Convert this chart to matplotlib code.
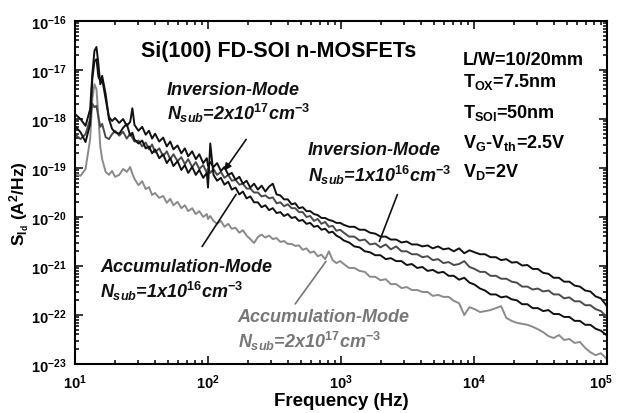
import matplotlib
matplotlib.use("Agg")
import matplotlib.pyplot as plt
import matplotlib.transforms as mtransforms
import numpy as np

plt.rcParams.update({
    "font.family": "Liberation Sans",
    "font.weight": "bold",
    "mathtext.fontset": "custom",
    "mathtext.rm": "Liberation Sans:bold",
    "mathtext.it": "Liberation Sans:italic:bold",
    "mathtext.bf": "Liberation Sans:bold",
    "mathtext.default": "rm",
})

# Frequency points of the measured spectra (Hz)
freq_hz = [
    10, 11, 12, 13, 13.5, 14, 14.5, 15, 15.5, 16, 17, 18, 19, 20,
    21.5, 23, 24.5, 26, 27, 28, 30, 32, 34, 36, 38, 40, 43, 46, 49, 52, 55, 59,
    63, 67, 71, 76, 81, 86, 92, 98, 100, 104,
    110, 117, 125, 133, 142, 151, 161, 172, 183, 195, 208, 222, 237, 253, 270,
    288, 307, 328, 350, 373, 398, 425, 453, 483, 515, 550, 587, 626, 668, 713,
    760, 811, 865, 923, 985,
    1050, 1150, 1260, 1380, 1510, 1650, 1810, 1980, 2170, 2370, 2600, 2850,
    3120, 3410, 3740, 4090, 4480, 4900, 5370, 5880, 6440, 7050, 7720, 8450, 9250,
    10100, 11100, 12100, 13300, 14600, 16000, 17500, 19200, 21000, 23000, 25200,
    27600, 30200, 33100, 36300, 39700, 43500, 47600, 52100, 57100, 62500, 68500,
    75000, 82100, 89900, 100000,
]

# Drain-current noise spectral density, log10(S_Id / (A^2/Hz))
log_s_inv_1e16 = [
    -17.90, -18.00, -18.14, -17.80, -17.08, -16.61, -16.53, -16.88, -17.29, -17.18, -17.59, -17.96, -18.04, -17.98,
    -18.08, -18.00, -18.14, -18.06, -17.78, -18.12, -18.24, -18.16, -18.32, -18.24, -18.40, -18.30, -18.46, -18.38,
    -18.56, -18.46, -18.62, -18.54, -18.70, -18.60, -18.76, -18.66, -18.82, -18.72, -18.90, -18.80, -18.96, -18.88,
    -18.98, -18.90, -19.06, -18.98, -19.14, -19.10, -19.24, -19.18, -19.32, -19.26, -19.40, -19.32, -19.44, -19.36,
    -19.48, -19.38, -19.32, -19.54, -19.56, -19.64, -19.64, -19.74, -19.72, -19.82, -19.80, -19.88, -19.88, -19.94,
    -19.96, -20.02, -20.02, -20.06, -20.08, -20.12, -20.12,
    -20.16, -20.20, -20.20, -20.26, -20.26, -20.32, -20.34, -20.40, -20.40, -20.46, -20.46, -20.52, -20.50, -20.56,
    -20.56, -20.60, -20.58, -20.64, -20.60, -20.66, -20.64, -20.70, -20.64, -20.74, -20.68,
    -20.72, -20.76, -20.76, -20.82, -20.82, -20.88, -20.86, -20.93, -20.92, -20.99, -20.98, -21.06, -21.06, -21.14,
    -21.16, -21.24, -21.24, -21.32, -21.32, -21.40, -21.42, -21.50, -21.52, -21.62, -21.66, -21.82,
]

log_s_inv_2e17 = [
    -18.31, -18.41, -18.31, -18.00, -17.69, -17.76, -17.73, -17.96, -18.16, -18.10, -18.37, -18.41, -18.31, -18.24,
    -18.34, -18.26, -18.40, -18.30, -18.38, -18.46, -18.44, -18.56, -18.48, -18.62, -18.52, -18.68, -18.60, -18.76,
    -18.66, -18.82, -18.72, -18.86, -18.78, -18.92, -18.82, -18.98, -18.88, -19.02, -18.94, -19.10, -19.00, -19.10,
    -19.02, -19.14, -19.08, -19.20, -19.14, -19.26, -19.24, -19.34, -19.32, -19.42, -19.42, -19.50, -19.50, -19.58,
    -19.56, -19.62, -19.60, -19.72, -19.70, -19.78, -19.74, -19.82, -19.82, -19.90, -19.90, -20.00, -19.98, -20.08,
    -20.04, -20.14, -20.10, -20.20, -20.18, -20.28, -20.26,
    -20.32, -20.40, -20.40, -20.48, -20.46, -20.56, -20.54, -20.62, -20.56, -20.66, -20.60, -20.70, -20.70, -20.76,
    -20.76, -20.82, -20.80, -20.88, -20.86, -20.94, -20.92, -20.98, -20.96, -20.90, -21.02,
    -21.06, -21.12, -21.12, -21.20, -21.20, -21.26, -21.26, -21.32, -21.34, -21.42, -21.42, -21.48, -21.46, -21.52,
    -21.50, -21.58, -21.58, -21.66, -21.64, -21.72, -21.72, -21.80, -21.80, -21.88, -21.92, -22.04,
]

log_s_acc_1e16 = [
    -18.14, -18.27, -18.47, -18.10, -17.18, -16.82, -16.78, -17.14, -17.22, -17.12, -17.49, -18.00, -18.20, -18.27,
    -18.30, -18.18, -18.10, -18.34, -18.28, -18.42, -18.50, -18.44, -18.60, -18.56, -18.70, -18.62, -18.80, -18.72,
    -18.90, -18.80, -18.96, -18.86, -19.04, -18.94, -19.10, -18.98, -19.14, -19.04, -19.20, -19.10, -19.40, -18.50,
    -19.14, -19.26, -19.20, -19.34, -19.28, -19.44, -19.40, -19.54, -19.48, -19.62, -19.58, -19.70, -19.70, -19.80,
    -19.76, -19.86, -19.82, -19.92, -19.90, -19.98, -19.94, -20.02, -20.00, -20.08, -20.06, -20.14, -20.12, -20.20,
    -20.18, -20.26, -20.24, -20.32, -20.30, -20.38, -20.42,
    -20.48, -20.52, -20.60, -20.62, -20.70, -20.72, -20.78, -20.78, -20.86, -20.84, -20.90, -20.90, -20.98, -20.96,
    -21.04, -21.02, -21.10, -21.08, -21.14, -21.12, -21.20, -21.20, -21.28, -21.24, -21.34,
    -21.38, -21.46, -21.50, -21.58, -21.58, -21.64, -21.62, -21.68, -21.70, -21.78, -21.78, -21.86, -21.86, -21.92,
    -21.90, -21.98, -21.98, -22.04, -22.04, -22.12, -22.12, -22.20, -22.20, -22.28, -22.32, -22.42,
]

log_s_acc_2e17 = [
    -19.12, -19.16, -19.02, -18.41, -17.59, -17.29, -17.39, -17.96, -18.57, -18.82, -19.08, -19.14, -19.06, -19.18,
    -19.14, -19.02, -19.08, -18.98, -19.12, -19.22, -19.35, -19.27, -19.43, -19.39, -19.55, -19.51, -19.61, -19.57,
    -19.71, -19.63, -19.76, -19.69, -19.82, -19.76, -19.88, -19.82, -19.94, -19.88, -20.00, -19.94, -20.04, -19.98,
    -20.08, -20.14, -20.08, -20.20, -20.14, -20.24, -20.22, -20.32, -20.27, -20.38, -20.45, -20.53, -20.41, -20.36,
    -20.42, -20.38, -20.45, -20.43, -20.51, -20.49, -20.55, -20.55, -20.59, -20.58, -20.67, -20.64, -20.73, -20.70,
    -20.80, -20.77, -20.86, -20.70, -20.88, -20.94, -20.90,
    -20.96, -21.04, -21.04, -21.10, -21.12, -21.22, -21.22, -21.29, -21.27, -21.37, -21.37, -21.45, -21.43, -21.49,
    -21.49, -21.53, -21.53, -21.61, -21.59, -21.63, -21.63, -21.71, -21.76, -22.00, -21.84,
    -21.88, -21.94, -21.92, -21.90, -21.86, -21.82, -22.06, -22.12, -22.16, -22.18, -22.20, -22.24, -22.29, -22.35,
    -22.43, -22.47, -22.41, -22.51, -22.49, -22.57, -22.55, -22.67, -22.76, -22.82, -22.78, -22.90,
]

x_ticks = [1e1, 1e2, 1e3, 1e4, 1e5]
x_tick_labels = [r"$10^{1}$", r"$10^{2}$", r"$10^{3}$", r"$10^{4}$", r"$10^{5}$"]
y_ticks = [1e-23, 1e-22, 1e-21, 1e-20, 1e-19, 1e-18, 1e-17, 1e-16]
y_tick_labels = [r"$10^{-23}$", r"$10^{-22}$", r"$10^{-21}$", r"$10^{-20}$",
                 r"$10^{-19}$", r"$10^{-18}$", r"$10^{-17}$", r"$10^{-16}$"]

fig = plt.figure(figsize=(6.17, 4.14), dpi=100)
ax = fig.add_axes([75 / 617, 49 / 414, 532 / 617, 343 / 414])

f = np.array(freq_hz)
ax.plot(f, 10 ** np.array(log_s_acc_2e17), color="#8a8a8a", lw=1.4)
ax.plot(f, 10 ** np.array(log_s_inv_2e17), color="#4a4a4a", lw=1.4)
ax.plot(f, 10 ** np.array(log_s_acc_1e16), color="#111111", lw=1.4)
ax.plot(f, 10 ** np.array(log_s_inv_1e16), color="#111111", lw=1.4)

ax.set_xscale("log")
ax.set_yscale("log")
ax.set_xlim(1e1, 1e5)
ax.set_ylim(1e-23, 1e-16)
ax.set_xticks(x_ticks)
ax.set_xticklabels(x_tick_labels, fontsize=10.5)
ax.set_yticks(y_ticks)
ax.set_yticklabels(y_tick_labels, fontsize=10.5)
ax.tick_params(which="both", direction="in", top=True, right=True, width=1.1)
ax.tick_params(which="major", length=6, pad=6)
ax.tick_params(which="minor", length=3)
for sp in ax.spines.values():
    sp.set_linewidth(1.5)

# keep the last frequency label inside the canvas
last = ax.get_xticklabels()[-1]
last.set_transform(last.get_transform() +
                   mtransforms.ScaledTranslation(-6 / 100, 0, fig.dpi_scale_trans))

ax.set_xlabel("Frequency (Hz)", fontsize=13.5, fontweight="bold", labelpad=1)
ax.set_ylabel(r"S$_{\mathrm{I_d}}$ (A$^{2}$/Hz)", fontsize=12.5, fontweight="bold")
ax.yaxis.set_label_coords(-0.08, 0.47)

tr = ax.transAxes
ax.text(0.382, 0.915, "Si(100) FD-SOI n-MOSFETs", transform=tr, ha="center", va="center",
        fontsize=15.5, fontweight="bold")

params = [
    (0.875, "L/W=10/20mm"),
    (0.810, r"T$_{\mathrm{OX}}$=7.5nm"),
    (0.720, r"T$_{\mathrm{SOI}}$=50nm"),
    (0.633, r"V$_{\mathrm{G}}$-V$_{\mathrm{th}}$=2.5V"),
    (0.548, r"V$_{\mathrm{D}}$=2V"),
]
for yy, txt in params:
    ax.text(0.729, yy, txt, transform=tr, ha="left", va="baseline", fontsize=13, fontweight="bold")


def mode_label(x, y1, y2, mode, nsub, color):
    ax.text(x, y1, mode, transform=tr, ha="left", va="baseline", fontsize=13,
            fontweight="bold", style="italic", color=color)
    ax.text(x, y2, nsub, transform=tr, ha="left", va="baseline", fontsize=13,
            fontweight="bold", style="italic", color=color)


mode_label(0.173, 0.787, 0.714, "Inversion-Mode",
           r"$\mathit{N}_{\mathit{sub}}$=2x10$^{\mathit{17}}$cm$^{\mathit{-3}}$", "#111111")
mode_label(0.438, 0.612, 0.534, "Inversion-Mode",
           r"$\mathit{N}_{\mathit{sub}}$=1x10$^{\mathit{16}}$cm$^{\mathit{-3}}$", "#111111")
mode_label(0.047, 0.271, 0.195, "Accumulation-Mode",
           r"$\mathit{N}_{\mathit{sub}}$=1x10$^{\mathit{16}}$cm$^{\mathit{-3}}$", "#111111")
mode_label(0.306, 0.125, 0.050, "Accumulation-Mode",
           r"$\mathit{N}_{\mathit{sub}}$=2x10$^{\mathit{17}}$cm$^{\mathit{-3}}$", "#777777")

# Pointers from each label to its spectrum
ax.annotate("", xy=(129, 10 ** -19.10), xytext=(199, 10 ** -18.37),
            arrowprops=dict(arrowstyle="-|>", color="#111111", lw=1.2, mutation_scale=10))
ax.annotate("", xy=(1910, 10 ** -20.55), xytext=(2700, 10 ** -19.49),
            arrowprops=dict(arrowstyle="-", color="#111111", lw=1.2))
ax.annotate("", xy=(167, 10 ** -19.49), xytext=(88, 10 ** -20.65),
            arrowprops=dict(arrowstyle="-", color="#111111", lw=1.2))
ax.annotate("", xy=(793, 10 ** -20.86), xytext=(440, 10 ** -21.82),
            arrowprops=dict(arrowstyle="-", color="#777777", lw=1.2))

fig.savefig("out.png", dpi=100)
